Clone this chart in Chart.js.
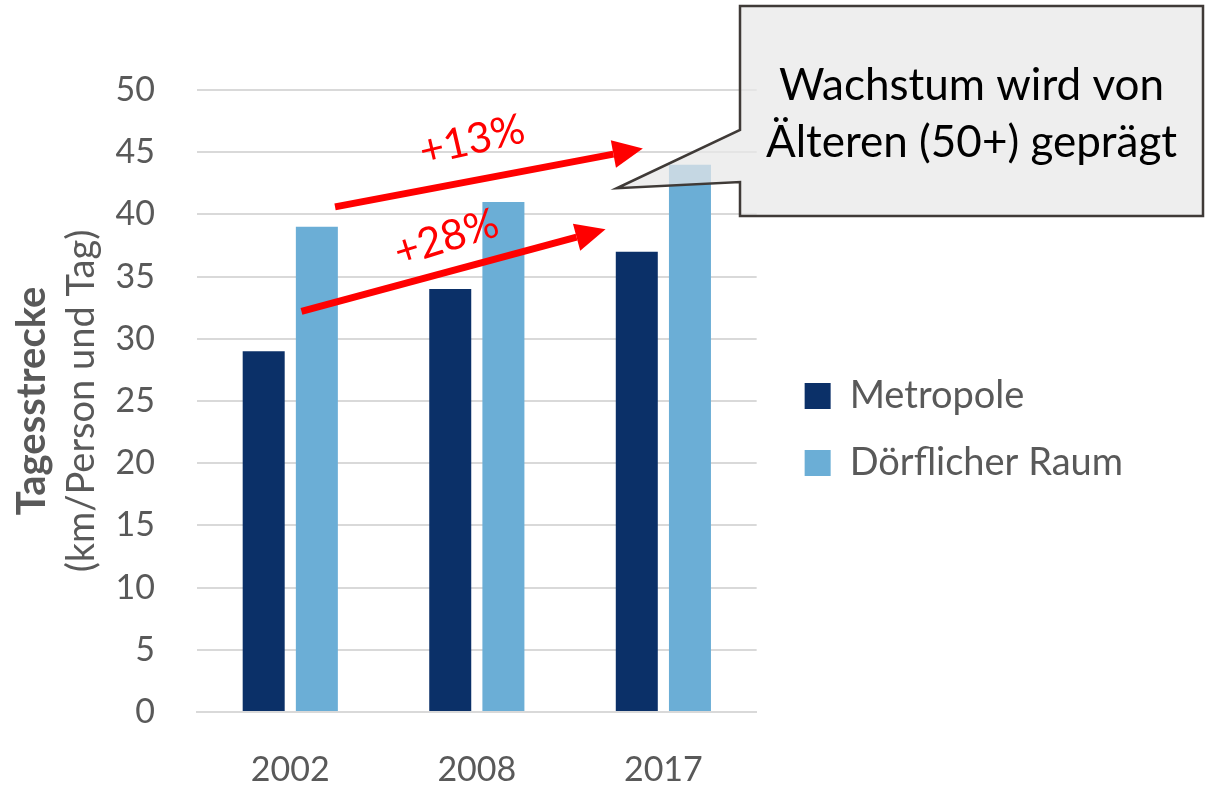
<!DOCTYPE html>
<html>
<head>
<meta charset="utf-8">
<script src="https://cdn.jsdelivr.net/npm/chart.js@4.4.0/dist/chart.umd.min.js"></script>
<style>
  html, body { margin: 0; padding: 0; background: #fff; }
  #wrap { width: 1205px; height: 792px; }
</style>
</head>
<body>
<div id="wrap"><canvas id="chart"></canvas></div>
<script>
// data
const years = ['2002', '2008', '2017'];
const metropole = [29, 34, 37];
const doerflich = [39, 41, 44];
const seriesNames = ['Metropole', 'Dörflicher Raum'];
const yTicks = [0, 5, 10, 15, 20, 25, 30, 35, 40, 45, 50];

// annotations: x in category units, y in axis units
const arrows = [
    { label: '+13%', from: [0.24, 40.6], to: [1.89, 45.3], textAt: [1.0, 44.3] },
    { label: '+28%', from: [0.06, 32.2], to: [1.69, 38.8], textAt: [0.87, 36.5] }
];
const calloutLines = ['Wachstum wird von', 'Älteren (50+) geprägt'];
const calloutTip = [1.75, 42.1];

const FONT = 'Lato, "Open Sans", sans-serif';
const GREY = '#595959';

function catX(chart, v) {
    const x = chart.scales.x;
    const p0 = x.getPixelForValue(0), p1 = x.getPixelForValue(1);
    return p0 + (p1 - p0) * v;
}

const annotations = {
    id: 'annotations',
    afterDatasetsDraw(chart) {
        const ctx = chart.ctx;
        const y = chart.scales.y;
        ctx.save();
        // red arrows
        arrows.forEach(a => {
            const x1 = catX(chart, a.from[0]), y1 = y.getPixelForValue(a.from[1]);
            const x2 = catX(chart, a.to[0]), y2 = y.getPixelForValue(a.to[1]);
            const ang = Math.atan2(y2 - y1, x2 - x1);
            const head = 30, hw = 14;
            const bx = x2 - head * Math.cos(ang), by = y2 - head * Math.sin(ang);
            ctx.strokeStyle = '#ff0000';
            ctx.lineWidth = 7;
            ctx.beginPath();
            ctx.moveTo(x1, y1);
            ctx.lineTo(bx, by);
            ctx.stroke();
            ctx.fillStyle = '#ff0000';
            ctx.beginPath();
            ctx.moveTo(x2, y2);
            ctx.lineTo(bx + hw * Math.sin(ang), by - hw * Math.cos(ang));
            ctx.lineTo(bx - hw * Math.sin(ang), by + hw * Math.cos(ang));
            ctx.closePath();
            ctx.fill();
            // label
            const tx = catX(chart, a.textAt[0]), ty = y.getPixelForValue(a.textAt[1]);
            ctx.save();
            ctx.translate(tx, ty);
            ctx.rotate(ang - 0.04);
            ctx.font = '42px ' + FONT;
            ctx.textAlign = 'center';
            ctx.textBaseline = 'bottom';
            ctx.fillText(a.label, 0, 0);
            ctx.restore();
        });

        // callout box with pointer
        const left = 740, top = 6, right = 1203, bottom = 216;
        const tipX = catX(chart, calloutTip[0]), tipY = y.getPixelForValue(calloutTip[1]);
        ctx.beginPath();
        ctx.moveTo(left, top);
        ctx.lineTo(right, top);
        ctx.lineTo(right, bottom);
        ctx.lineTo(left, bottom);
        ctx.lineTo(left, 182);
        ctx.lineTo(tipX, tipY);
        ctx.lineTo(left, 130);
        ctx.closePath();
        ctx.fillStyle = 'rgba(232,232,232,0.72)';
        ctx.fill();
        ctx.lineWidth = 2.5;
        ctx.strokeStyle = '#3f3a37';
        ctx.stroke();
        ctx.fillStyle = '#000';
        ctx.font = '44px ' + FONT;
        ctx.textAlign = 'center';
        ctx.textBaseline = 'middle';
        ctx.fillText(calloutLines[0], (left + right) / 2, 86);
        ctx.fillText(calloutLines[1], (left + right) / 2, 143);
        ctx.restore();
    },
    afterDraw(chart) {
        // two-weight y axis title
        const ctx = chart.ctx;
        const a = chart.chartArea;
        const cy = (a.top + a.bottom) / 2;
        ctx.save();
        ctx.fillStyle = GREY;
        ctx.textAlign = 'center';
        ctx.textBaseline = 'middle';
        ctx.translate(32, cy);
        ctx.rotate(-Math.PI / 2);
        ctx.font = 'bold 40px ' + FONT;
        ctx.fillText('Tagesstrecke', 0, 0);
        ctx.font = '38px ' + FONT;
        ctx.fillText('(km/Person und Tag)', 0, 50);
        ctx.restore();
    }
};

function draw() {
    new Chart(document.getElementById('chart').getContext('2d'), {
        type: 'bar',
        data: {
            labels: years,
            datasets: [{
                label: seriesNames[0],
                data: metropole,
                backgroundColor: '#0b3068'
            }, {
                label: seriesNames[1],
                data: doerflich,
                backgroundColor: '#6baed6'
            }]
        },
        options: {
            responsive: true,
            maintainAspectRatio: false,
            animation: false,
            categoryPercentage: 0.57,
            barPercentage: 0.79,
            layout: { padding: { top: 90, right: 72, left: 0, bottom: 0 } },
            plugins: {
                tooltip: { enabled: false },
                legend: {
                    position: 'right',
                    fullSize: false,
                    maxWidth: 500,
                    // empty title only nudges the items down
                    title: { display: true, text: '', font: { size: 10 }, padding: { top: 22, bottom: 23 } },
                    labels: {
                        color: GREY,
                        font: { family: FONT, size: 38 },
                        boxWidth: 26,
                        boxHeight: 26,
                        padding: 29
                    }
                }
            },
            scales: {
                x: {
                    grid: { display: false },
                    border: { color: '#d9d9d9', width: 2 },
                    ticks: {
                        color: GREY,
                        font: { family: FONT, size: 34 },
                        padding: 30
                    },
                    afterFit(s) { s.height = 80; }
                },
                y: {
                    min: 0,
                    max: 50,
                    afterBuildTicks(s) { s.ticks = yTicks.map(v => ({ value: v })); },
                    grid: { color: '#d9d9d9', lineWidth: 2, drawTicks: false },
                    border: { display: false },
                    ticks: {
                        color: GREY,
                        font: { family: FONT, size: 34 },
                        padding: 42
                    },
                    afterFit(s) { s.width = 197; }
                },
                // empty spacer between plot and legend
                gap: {
                    type: 'linear',
                    position: 'right',
                    grid: { display: false },
                    border: { display: false },
                    ticks: { display: false },
                    afterFit(s) { s.width = 19; }
                }
            }
        },
        plugins: [annotations]
    });
}

Promise.all([
    document.fonts.load('38px Lato'),
    document.fonts.load('bold 40px Lato')
]).then(draw, draw);
</script>
</body>
</html>
